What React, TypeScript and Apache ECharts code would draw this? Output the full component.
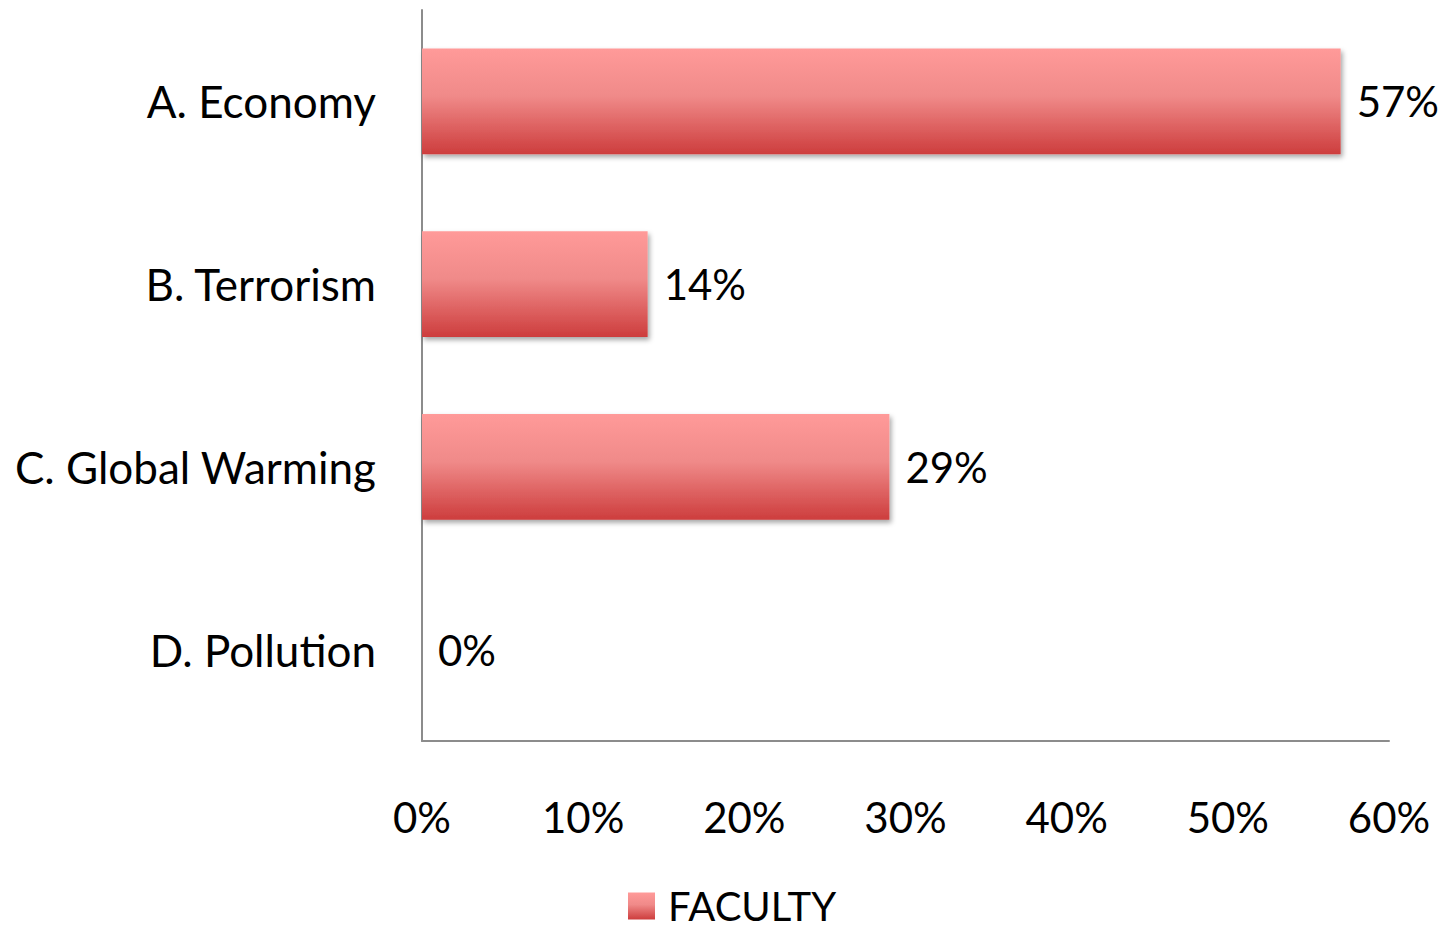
import React, { useEffect, useRef } from "react";
import * as echarts from "echarts";

const categories = ["A. Economy", "B. Terrorism", "C. Global Warming", "D. Pollution"];
const facultyValues = [57, 14, 29, 0];
const seriesName = "FACULTY";

const FONT = "Lato, 'Open Sans', sans-serif";

export default function App() {
  const ref = useRef<HTMLDivElement>(null);
  useEffect(() => {
    if (!ref.current) return;
    const chart = echarts.init(ref.current, null, { renderer: "svg" });
    const grad = new echarts.graphic.LinearGradient(0, 0, 0, 1, [
      { offset: 0, color: "#ff9a99" },
      { offset: 0.45, color: "#f08a89" },
      { offset: 1, color: "#cd3d3d" },
    ]);
    chart.setOption({
      animation: false,
      backgroundColor: "#ffffff",
      textStyle: { fontFamily: FONT },
      grid: { left: 422, right: 61, top: 10, bottom: 188, containLabel: false },
      legend: {
        top: 884,
        left: 628,
        padding: 0,
        itemWidth: 27,
        itemHeight: 27,
        itemGap: 10,
        icon: "rect",
        textStyle: {
          fontSize: 40,
          lineHeight: 44,
          color: "#000",
          fontFamily: FONT,
          padding: [0, 0, 0, 8],
        },
        data: [{ name: seriesName, itemStyle: { color: grad } }],
      },
      xAxis: {
        type: "value",
        min: 0,
        max: 60,
        interval: 10,
        axisLine: { show: true, lineStyle: { color: "#8c8c8c", width: 2 } },
        axisTick: { show: false },
        splitLine: { show: false },
        axisLabel: {
          formatter: "{value}%",
          fontSize: 42,
          color: "#000",
          margin: 55,
          fontFamily: FONT,
        },
      },
      yAxis: {
        type: "category",
        inverse: true,
        data: categories,
        axisLine: { show: true, lineStyle: { color: "#8c8c8c", width: 2 } },
        axisTick: { show: false },
        axisLabel: { fontSize: 44, color: "#000", margin: 46, fontFamily: FONT },
      },
      series: [
        {
          name: seriesName,
          type: "bar",
          data: facultyValues,
          barCategoryGap: "42%",
          itemStyle: {
            color: grad,
            shadowColor: "rgba(0,0,0,0.35)",
            shadowBlur: 5,
            shadowOffsetX: 2,
            shadowOffsetY: 3,
          },
          label: {
            show: true,
            position: "right",
            distance: 16,
            formatter: "{c}%",
            fontSize: 42,
            color: "#000",
            fontFamily: FONT,
          },
        },
      ],
    });
    return () => chart.dispose();
  }, []);
  return (
    <div
      ref={ref}
      style={{ position: "fixed", left: 0, top: 0, width: 1450, height: 929 }}
    />
  );
}
